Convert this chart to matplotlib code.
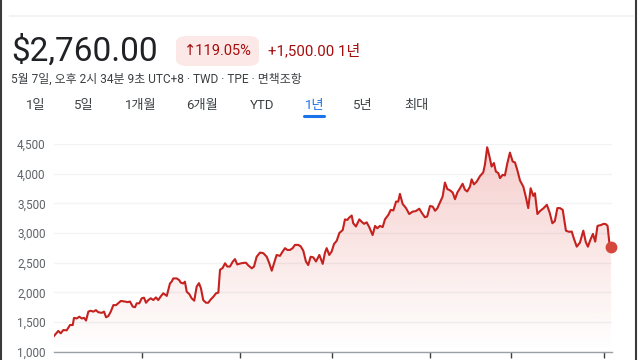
import matplotlib
matplotlib.use("Agg")
import matplotlib.pyplot as plt
from matplotlib.patches import FancyBboxPatch
from matplotlib.lines import Line2D
import numpy as np

# price trace (days since start, TWD)
days = [0, 2.8, 4.4, 6.1, 8.3, 10.5, 12.3, 13.1, 14.9, 16.6, 18.2, 19.7, 21.0, 22.5, 24.0,
        25.8, 27.5, 29.0, 31.3, 32.8, 34.1, 35.6, 37.2, 38.9, 40.7, 42.2, 43.8, 46.5, 48.3,
        49.8, 51.6, 53.1, 54.2, 55.9, 57.5, 59.0, 60.3, 61.8, 63.4, 65.1, 66.8, 68.3, 69.9,
        71.6, 73.9, 74.9, 76.0, 77.1, 78.2, 80.4, 82.1, 83.0, 84.7, 85.8, 87.0, 88.7, 90.2,
        91.9, 93.5, 95.0, 96.3, 97.8, 99.6, 101.1, 102.7, 104.4, 106.2, 107.7, 108.8, 110.5,
        112.1, 113.6, 115.3, 117.1, 118.6, 120.1, 121.9, 123.7, 125.8, 127.3, 129.6, 131.1,
        132.8, 135.0, 137.2, 139.4, 141.1, 142.7, 144.2, 145.9, 148.1, 149.9, 151.4, 152.9,
        154.7, 156.4, 157.9, 160.1, 161.7, 163.4, 165.1, 166.6, 168.2, 169.9, 171.7, 173.9,
        176.1, 177.6, 178.7, 180.4, 182.0, 183.5, 185.3, 187.0, 189.2, 190.7, 192.2, 193.5,
        195.1, 196.1, 197.9, 200.1, 201.6, 203.2, 204.9, 206.6, 208.8, 210.4, 211.9, 213.6,
        215.4, 216.9, 219.1, 220.7, 222.4, 224.2, 225.6, 226.7, 228.5, 230.7, 232.8, 235.0,
        237.2, 239.4, 240.9, 243.1, 244.6, 246.4, 248.2, 249.7, 251.2, 252.9, 254.7, 256.2,
        257.8, 259.5, 261.3, 262.8, 264.3, 266.1, 267.8, 269.3, 270.8, 272.6, 273.7, 275.2,
        277.0, 279.2, 281.3, 282.4, 283.9, 285.3, 286.8, 288.3, 289.6, 291.2, 292.3, 294.0,
        295.5, 297.1, 298.8, 300.6, 302.1, 303.6, 305.4, 307.6, 309.3, 310.8, 312.4, 314.1,
        315.2, 316.8, 318.5, 320.7, 323.0, 324.9, 326.6, 328.2, 329.9, 331.6, 333.4, 335.5,
        337.5, 339.3, 340.8, 342.6, 344.7, 346.9, 348.5, 349.9, 351.6, 353.2, 354.7, 356.2,
        358.5, 360.2, 361.6, 362.8, 364.1, 365.0]
prices = [1265, 1350, 1310, 1365, 1360, 1450, 1450, 1570, 1560, 1590, 1560, 1570, 1525, 1675, 1690,
          1675, 1700, 1665, 1655, 1675, 1580, 1600, 1675, 1785, 1785, 1820, 1855, 1845, 1835,
          1845, 1760, 1750, 1815, 1815, 1900, 1910, 1825, 1870, 1900, 1870, 1915, 1870, 1930,
          1985, 1940, 2040, 2150, 2180, 2235, 2235, 2205, 2165, 2150, 2180, 2010, 1970, 1900,
          1860, 2095, 2155, 2070, 1870, 1825, 1825, 1880, 1925, 1985, 1995, 2380, 2410,
          2490, 2435, 2435, 2515, 2560, 2470, 2485, 2495, 2500, 2455, 2405, 2435,
          2600, 2670, 2660, 2600, 2490, 2365, 2490, 2630, 2615, 2690, 2745, 2715,
          2715, 2745, 2800, 2800, 2775, 2700, 2520, 2460, 2600, 2590, 2520, 2630,
          2480, 2670, 2745, 2630, 2690, 2815, 2870, 3000, 3050, 3230, 3220, 3260,
          3295, 3165, 3110, 3230, 3190, 3155, 3180, 3100, 2965, 3120, 3080, 3120,
          3100, 3230, 3305, 3390, 3380, 3530, 3530, 3660, 3490, 3420, 3320, 3360,
          3370, 3410, 3345, 3265, 3280, 3455, 3445, 3375, 3415, 3510, 3615, 3850,
          3740, 3720, 3680, 3570, 3680, 3755, 3830, 3730, 3700, 3780, 3905, 3820,
          3865, 3960, 4020, 4150, 4445, 4300, 4120, 4180, 4035, 4010, 3925, 3980,
          3970, 4175, 4355, 4205, 4190, 4065, 3885, 3780, 3600, 3420, 3755, 3625,
          3670, 3320, 3370, 3415, 3475, 3340, 3165, 3200, 3420, 3420, 3390, 3040,
          3020, 3025, 2900, 2770, 2840, 3040, 2850, 2770, 2890, 2985, 2855, 3120,
          3135, 3155, 3150, 3120, 2800, 2760]
y_ticks = [1000, 1500, 2000, 2500, 3000, 3500, 4000, 4500]
x_ticks = [57.5, 121.9, 182.0, 246.4, 299.3, 360.4]
tabs = ["1일", "5일", "1개월", "6개월", "YTD", "1년", "5년", "최대"]
tab_x = [26, 74, 125, 186, 250, 305, 353, 404]

FONT = ["Roboto", "Noto Sans CJK KR", "DejaVu Sans"]
RED = "#c5221f"
DARK_RED = "#a50e0e"
GRAY = "#5f6368"

W, H = 640, 360
fig = plt.figure(figsize=(6.4, 3.6), dpi=100)


def fx(px):
    return px / W


def fy(py):
    return 1 - py / H


# window borders and header divider
fig.add_artist(Line2D([fx(1), fx(1)], [0, 1], color="#3a3a3a", lw=1.5))
fig.add_artist(Line2D([fx(636), fx(636)], [0, 1], color="#3a3a3a", lw=1.5))
fig.add_artist(Line2D([fx(10), fx(634)], [fy(16), fy(16)], color="#f1f3f4", lw=1.5))
# title scrolled off the top, only its lower edge shows
fig.text(fx(14), fy(3), "임금", family=FONT, fontsize=15, color="#202124", va="bottom")

# header
fig.text(fx(11), fy(51), "$2,760.00", family=FONT, fontsize=24, color="#202124", va="center")
badge = FancyBboxPatch((fx(176), fy(66)), fx(83), 30 / H,
                       boxstyle="round,pad=0,rounding_size=0.018",
                       transform=fig.transFigure, fc="#fce8e6", ec="none")
fig.add_artist(badge)
fig.text(fx(217.5), fy(51), "↑119.05%", family=["Roboto", "DejaVu Sans"], fontsize=10.5,
         color=DARK_RED, ha="center", va="center")
fig.text(fx(268), fy(51), "+1,500.00 1년", family=FONT, fontsize=10.8,
         color=DARK_RED, va="center")
fig.text(fx(11), fy(79), "5월 7일, 오후 2시 34분 9초 UTC+8 · TWD · TPE · 면책조항",
         family=FONT, fontsize=8.6, color="#3c4043", va="center")

for label, x in zip(tabs, tab_x):
    color = "#1a73e8" if label == "1년" else "#3c4043"
    fig.text(fx(x), fy(105), label, family=FONT, fontsize=9.5, color=color, va="center")
fig.add_artist(Line2D([fx(304), fx(324)], [fy(116), fy(116)], color="#1a73e8",
                      lw=2.2, solid_capstyle="round"))

# chart
ax = fig.add_axes([fx(54), 8.3 / H, (611.7 - 54) / W, (351.7 - 144) / H])
ax.set_xlim(0, 365.5)
ax.set_ylim(1000, 4500)

x = np.array(days)
y = np.array(prices)
poly = ax.fill_between(x, y, 1000, color="none", lw=0)
grad = np.linspace(0.24, 0.0, 256).reshape(-1, 1)
rgba = np.zeros((256, 1, 4))
rgba[..., 0] = 0.84
rgba[..., 1] = 0.2
rgba[..., 2] = 0.18
rgba[..., 3] = grad
img = ax.imshow(rgba, extent=[0, 365.5, 1000, 4500], aspect="auto", origin="upper", zorder=1)
img.set_clip_path(poly.get_paths()[0], transform=ax.transData)

ax.plot(x, y, color=RED, lw=1.5, zorder=3, solid_joinstyle="round")
ax.plot([x[-1]], [y[-1]], "o", color="#d3483a", ms=7.5, zorder=4, clip_on=False)

ax.set_yticks(y_ticks)
ax.set_yticklabels([f"{v:,}" for v in y_ticks], family=FONT, fontsize=8.5, color=GRAY)
ax.set_xticks(x_ticks)
ax.set_xticklabels([])
ax.tick_params(axis="y", length=0, pad=6)
ax.tick_params(axis="x", length=4, width=1, color="#3c4043", direction="out")
ax.grid(axis="y", color="#f1f3f4", lw=1)
ax.set_axisbelow(True)
for side in ["top", "left", "right"]:
    ax.spines[side].set_visible(False)
ax.spines["bottom"].set_color("#9aa0a6")
ax.spines["bottom"].set_linewidth(1)

fig.savefig("out.png", dpi=100)
